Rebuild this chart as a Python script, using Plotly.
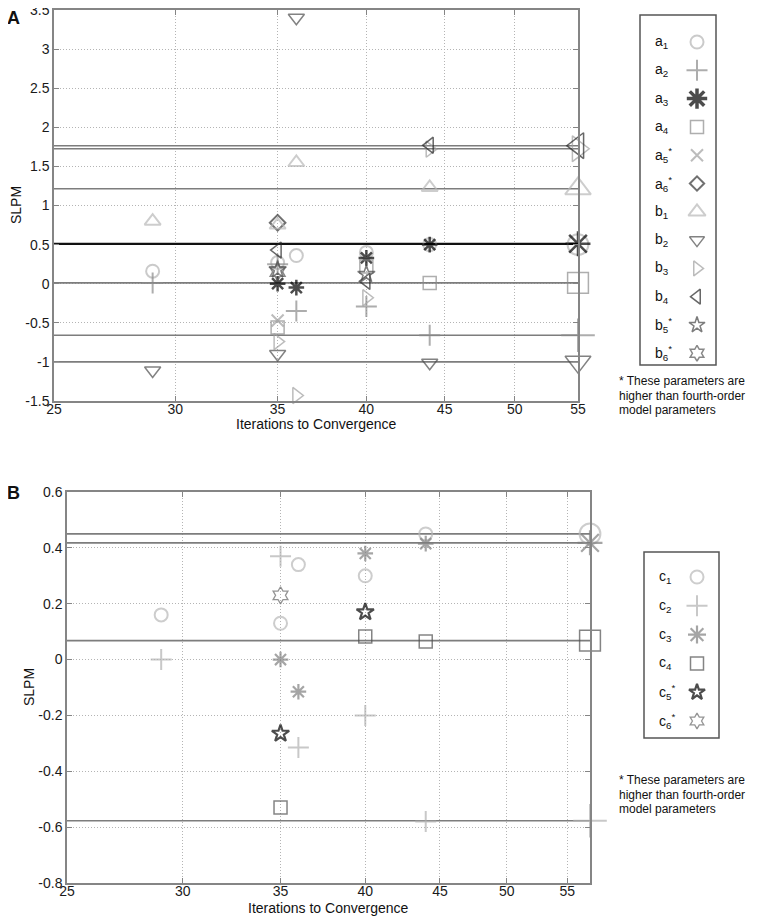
import numpy as np
import plotly.graph_objects as go

# page is shown with the browser's default 8px body margin: size the figure to fit
OFF = 8
W, H = 765 - OFF, 924 - OFF

# ---------------- Panel A data ----------------
A_x_ticks = [25, 30, 35, 40, 45, 50, 55]
A_y_ticks = [-1.5, -1, -0.5, 0, 0.5, 1, 1.5, 2, 2.5, 3, 3.5]

a1_x = [29, 35, 36, 40, 44, 55]
a1_y = [0.16, 0.27, 0.36, 0.40, 0.50, 0.50]
a2_x = [29, 35, 36, 40, 44, 55]
a2_y = [0.01, 0.25, -0.35, -0.29, -0.66, -0.66]
a3_x = [35, 36, 40, 44, 55]
a3_y = [0.0, -0.05, 0.33, 0.50, 0.51]
a4_x = [35, 40, 44, 55]
a4_y = [-0.56, 0.22, 0.01, 0.01]
a5_x = [35]
a5_y = [-0.47]
a6_x = [35]
a6_y = [0.78]
b1_x = [29, 35, 36, 44, 55]
b1_y = [0.80, 0.75, 1.55, 1.23, 1.215]
b2_x = [29, 35, 36, 44, 55]
b2_y = [-1.11, -0.90, 3.40, -1.01, -1.0]
b3_x = [35, 36, 40, 44, 55]
b3_y = [-0.74, -1.43, -0.18, 1.72, 1.726]
b4_x = [35, 40, 44, 55]
b4_y = [0.43, 0.03, 1.77, 1.765]
b5_x = [35, 40]
b5_y = [0.18, 0.12]
b6_x = [35]
b6_y = [0.15]

# ---------------- Panel B data ----------------
B_x_ticks = [25, 30, 35, 40, 45, 50, 55]
B_x_max = 57
B_y_ticks = [-0.8, -0.6, -0.4, -0.2, 0, 0.2, 0.4, 0.6]

c1_x = [29, 35, 36, 40, 44, 57]
c1_y = [0.16, 0.13, 0.34, 0.30, 0.45, 0.45]
c2_x = [29, 35, 36, 40, 44, 57]
c2_y = [0.0, 0.37, -0.315, -0.20, -0.58, -0.577]
c3_x = [35, 36, 40, 44, 57]
c3_y = [0.0, -0.115, 0.38, 0.415, 0.418]
c4_x = [35, 40, 44, 57]
c4_y = [-0.53, 0.083, 0.065, 0.068]
c5_x = [35, 40]
c5_y = [-0.265, 0.17]
c6_x = [35]
c6_y = [0.23]

FONT = "Liberation Sans, Arial, sans-serif"

# styles: (label html, x, y, symbol, color, line width, normal size, draws reference line, legend size)
A_series = [
    ("a<sub>1</sub>", a1_x, a1_y, "circle-open", "#b3b3b3", 2, 13, False, 13),
    ("a<sub>2</sub>", a2_x, a2_y, "cross-thin-open", "#8a8a8a", 2, 15, True, 15),
    ("a<sub>3</sub>", a3_x, a3_y, "asterisk-open", "#000000", 2.5, 13, True, 17),
    ("a<sub>4</sub>", a4_x, a4_y, "square-open", "#8c8c8c", 1.5, 13, True, 13),
    ("a<sub>5</sub><sup>*</sup>", a5_x, a5_y, "x-thin-open", "#a0a0a0", 2, 12, False, 12),
    ("a<sub>6</sub><sup>*</sup>", a6_x, a6_y, "diamond-open", "#333333", 2, 12, False, 11),
    ("b<sub>1</sub>", b1_x, b1_y, "triangle-up-open", "#b8b8b8", 2, 14, True, 15),
    ("b<sub>2</sub>", b2_x, b2_y, "triangle-down-open", "#4d4d4d", 1.5, 14, True, 13),
    ("b<sub>3</sub>", b3_x, b3_y, "triangle-right-open", "#a0a0a0", 1.5, 14, True, 13),
    ("b<sub>4</sub>", b4_x, b4_y, "triangle-left-open", "#262626", 1.5, 14, True, 13),
    ("b<sub>5</sub><sup>*</sup>", b5_x, b5_y, "star-open", "#444444", 1.5, 13, False, 12),
    ("b<sub>6</sub><sup>*</sup>", b6_x, b6_y, "hexagram-open", "#555555", 1.5, 13, False, 12),
]
A_line_colors = {"a<sub>3</sub>": ("#111111", 2.2)}

B_series = [
    ("c<sub>1</sub>", c1_x, c1_y, "circle-open", "#b8b8b8", 2, 13, True, 13),
    ("c<sub>2</sub>", c2_x, c2_y, "cross-thin-open", "#b0b0b0", 2, 15, True, 15),
    ("c<sub>3</sub>", c3_x, c3_y, "asterisk-open", "#7f7f7f", 2.2, 13, True, 15),
    ("c<sub>4</sub>", c4_x, c4_y, "square-open", "#505050", 1.5, 13, True, 13),
    ("c<sub>5</sub><sup>*</sup>", c5_x, c5_y, "star-open", "#000000", 2.2, 13, False, 12),
    ("c<sub>6</sub><sup>*</sup>", c6_x, c6_y, "hexagram-open", "#666666", 1.3, 13, False, 12),
]

fig = go.Figure()

def add_panel(series, xa, ya, xmin, xend, line_over):
    # reference lines first
    for lab, xs, ys, sym, col, lw, sz, has_line, lsz in series:
        if has_line:
            lc, lwid = line_over.get(lab, ("#7d7d7d", 1.6))
            fig.add_trace(go.Scatter(x=[xmin, xs[-1]], y=[ys[-1], ys[-1]], mode="lines",
                                     line=dict(color=lc, width=lwid), xaxis=xa, yaxis=ya,
                                     showlegend=False, hoverinfo="skip"))
    for lab, xs, ys, sym, col, lw, sz, has_line, lsz in series:
        sizes = [sz * 1.6 if x == xend else sz for x in xs]
        fig.add_trace(go.Scatter(x=xs, y=ys, mode="markers", xaxis=xa, yaxis=ya,
                                 marker=dict(symbol=sym, size=sizes, color=col,
                                             line=dict(color=col, width=lw)),
                                 cliponaxis=False, showlegend=False, name=lab))

add_panel(A_series, "x", "y", A_x_ticks[0], A_x_ticks[-1], A_line_colors)
add_panel(B_series, "x2", "y2", B_x_ticks[0], B_x_max, {})

axis_common = dict(showline=True, linecolor="#858585", linewidth=1.5, mirror="ticks",
                   ticks="inside", ticklen=5, tickcolor="#858585", tickwidth=1.2,
                   showgrid=True, gridcolor="#b4b4b4", griddash="1px,2px", gridwidth=1,
                   zeroline=False, automargin=False, ticklabeloverflow="allow",
                   tickfont=dict(family=FONT, size=14, color="#1a1a1a"))

def dx(p0, p1):
    return [(p0 - OFF) / W, (p1 - OFF) / W]

def dy(top, bottom):
    return [1 - (bottom - OFF) / H, 1 - (top - OFF) / H]

fig.update_layout(
    width=W, height=H, margin=dict(l=0, r=0, t=0, b=0, pad=0), autosize=False,
    paper_bgcolor="white", plot_bgcolor="rgba(0,0,0,0)", showlegend=False,
    xaxis=dict(domain=dx(54, 578), anchor="y", type="log",
               range=[np.log10(A_x_ticks[0]), np.log10(A_x_ticks[-1])],
               tickvals=A_x_ticks, ticktext=[str(v) for v in A_x_ticks],
               ticklabelstandoff=-6, **axis_common),
    yaxis=dict(domain=dy(10, 401), anchor="x",
               range=[A_y_ticks[0], A_y_ticks[-1]], tickvals=A_y_ticks,
               ticktext=[("%g" % v) for v in A_y_ticks], ticklabelstandoff=0, **axis_common),
    xaxis2=dict(domain=dx(67, 590), anchor="y2", type="log",
                range=[np.log10(B_x_ticks[0]), np.log10(B_x_max)],
                tickvals=B_x_ticks, ticktext=[str(v) for v in B_x_ticks],
                ticklabelstandoff=-6, **axis_common),
    yaxis2=dict(domain=dy(492, 883), anchor="x2",
                range=[B_y_ticks[0], B_y_ticks[-1]], tickvals=B_y_ticks,
                ticktext=[("%g" % v) for v in B_y_ticks], ticklabelstandoff=0, **axis_common),
    # overlay in screen-pixel coordinates (for legends and free text)
    xaxis3=dict(domain=[0, 1], anchor="y3", range=[OFF, OFF + W], visible=False,
                fixedrange=True, automargin=False),
    yaxis3=dict(domain=[0, 1], anchor="x3", range=[OFF + H, OFF], visible=False,
                fixedrange=True, automargin=False),
)

ann = []
def text(x, y, s, size=14, xanchor="center", yanchor="middle", angle=0, bold=False):
    if bold:
        s = "<b>" + s + "</b>"
    ann.append(dict(x=x, y=y, xref="x3", yref="y3", text=s, showarrow=False,
                    xanchor=xanchor, yanchor=yanchor, textangle=angle,
                    font=dict(family=FONT, size=size, color="#111111")))

# panel letters, axis titles
text(13, 18, "A", size=18, bold=True)
text(13, 493, "B", size=18, bold=True)
text(16, 205, "SLPM", angle=-90)
text(29, 687, "SLPM", angle=-90)
text(316, 424, "Iterations to Convergence")
text(328, 908, "Iterations to Convergence")

# legends (manual boxes)
def legend(series, x0, x1, y0, y1, row0, step, lab_x, mk_x, note_y):
    fig.add_shape(type="rect", x0=x0, x1=x1, y0=y0, y1=y1, xref="x3", yref="y3",
                  line=dict(color="#555555", width=1.5), fillcolor="white", layer="below")
    ys = [row0 + i * step for i in range(len(series))]
    for s, yy in zip(series, ys):
        text(lab_x, yy, s[0], size=14, xanchor="left")
    fig.add_trace(go.Scatter(x=[mk_x] * len(series), y=ys, mode="markers", xaxis="x3", yaxis="y3",
                             marker=dict(symbol=[s[3] for s in series], size=[s[8] for s in series],
                                         color=[s[4] for s in series],
                                         line=dict(color=[s[4] for s in series],
                                                   width=[s[5] + (1 if i == 2 and s[0].startswith("a") else 0)
                                                          for i, s in enumerate(series)])),
                             cliponaxis=False, showlegend=False, hoverinfo="skip"))
    for i, line in enumerate(["* These parameters are", "higher than fourth-order",
                              "model parameters"]):
        text(617, note_y + i * 14.5, line, size=12, xanchor="left")

legend(A_series, 640, 716, 15, 365, 42, 28.3, 653, 697, 381)
legend(B_series, 644, 719, 552, 738, 577, 28.8, 657, 697, 780)

fig.update_layout(annotations=ann)
fig.write_html("out.html")
